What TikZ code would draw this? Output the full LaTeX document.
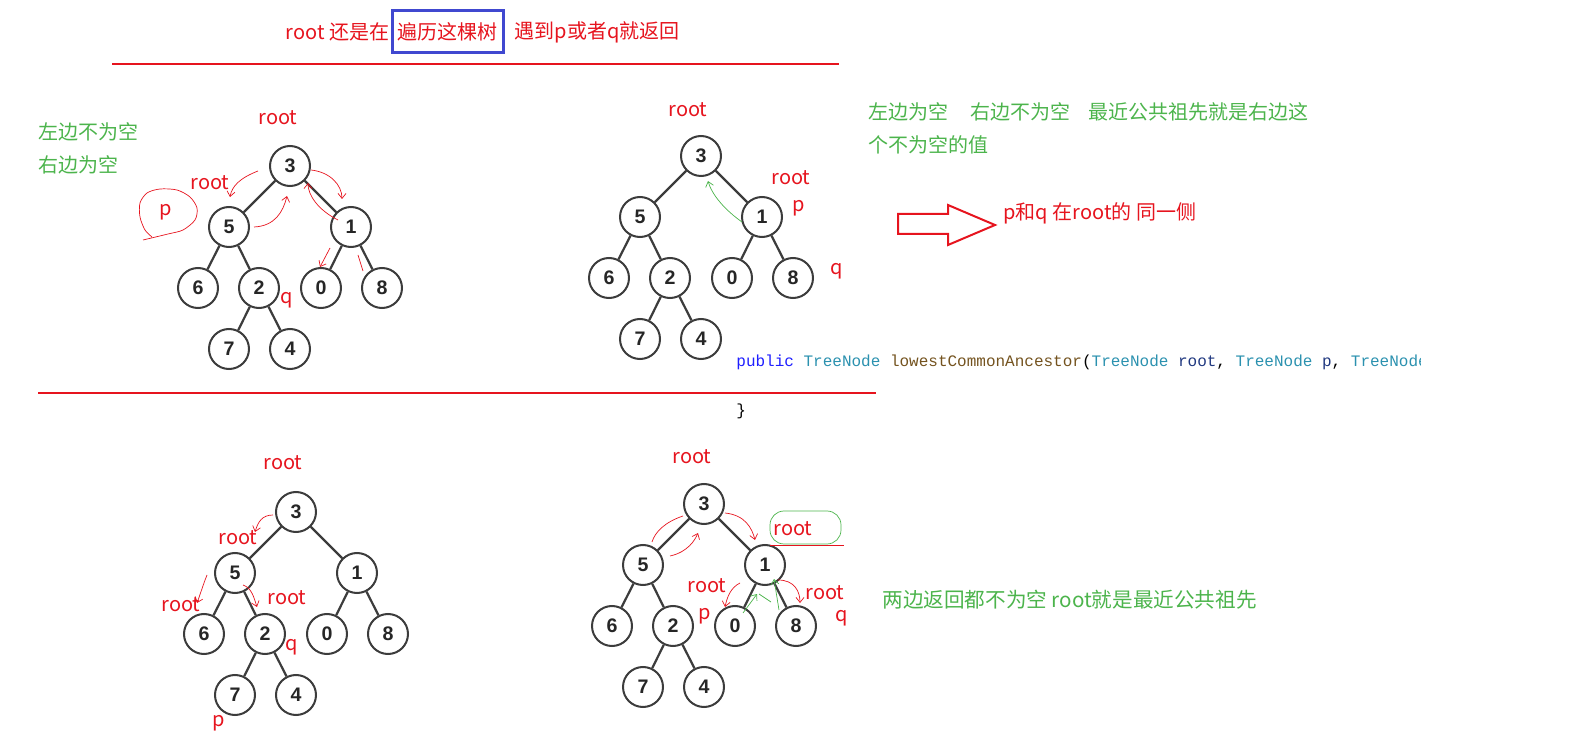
\documentclass[tikz,border=0pt]{standalone}
\usepackage{fontspec}
\setmainfont{Noto Sans CJK SC}
\newfontfamily\codefont{Liberation Mono}
\newfontfamily\digitfont{Liberation Sans}
\usetikzlibrary{calc}
\usetikzlibrary{positioning}
\usetikzlibrary{arrows.meta}

\definecolor{inkred}{RGB}{230,20,30}
\definecolor{inkgreen}{RGB}{76,180,76}
\definecolor{boxblue}{RGB}{64,72,208}
\definecolor{kwblue}{RGB}{30,30,255}
\definecolor{typeteal}{RGB}{43,145,175}
\definecolor{fnbrown}{RGB}{116,83,31}
\definecolor{argnavy}{RGB}{31,55,127}
\definecolor{nodegray}{RGB}{60,60,60}

\tikzset{
    treenode/.style={circle, draw=nodegray, line width=1pt, minimum size=20pt, inner sep=0pt, text=black!85, font=\digitfont\bfseries\fontsize{9.8}{9.8}\selectfont},
    treeedge/.style={draw=nodegray, line width=1.1pt},
    redlbl/.style={text=inkred, inner sep=0pt, font=\fontsize{10}{12}\selectfont},
    titletext/.style={text=inkred, inner sep=0pt, font=\fontsize{10}{12}\selectfont},
    greennote/.style={text=inkgreen, inner sep=0pt, anchor=west, font=\fontsize{10}{12}\selectfont},
    codeline/.style={anchor=west, inner sep=0pt, font=\codefont\fontsize{8}{10}\selectfont},
    scribble/.style={draw=inkred, line width=0.35pt, -{Straight Barb[length=2.5pt,width=4pt]}},
    greenscribble/.style={draw=inkgreen, line width=0.35pt},
    sepline/.style={draw=inkred, line width=1pt}
}

% one binary tree, root 3 at the origin of the current scope
\newcommand{\bintree}[1]{%
    \node [treenode] (#13) at (0,0) {3};
    \node [treenode] (#15) at (-61,61) {5};
    \node [treenode] (#11) at (61,61) {1};
    \node [treenode] (#16) at (-92,122) {6};
    \node [treenode] (#12) at (-31,122) {2};
    \node [treenode] (#10) at (31,122) {0};
    \node [treenode] (#18) at (92,122) {8};
    \node [treenode] (#17) at (-61,183) {7};
    \node [treenode] (#14) at (0,183) {4};
    \draw [treeedge] (#13) -- (#15);
    \draw [treeedge] (#13) -- (#11);
    \draw [treeedge] (#15) -- (#16);
    \draw [treeedge] (#15) -- (#12);
    \draw [treeedge] (#11) -- (#10);
    \draw [treeedge] (#11) -- (#18);
    \draw [treeedge] (#12) -- (#17);
    \draw [treeedge] (#12) -- (#14);
}

\begin{document}
\begin{tikzpicture}[x=0.5pt, y=-0.5pt]
    \useasboundingbox (0,0) rectangle (1576,754);

    % title
    \node [titletext, draw=boxblue, line width=1.5pt, minimum width=55.5pt, minimum height=21pt] (trav) at (447.5,32) {遍历这棵树};
    \node [titletext, left=0.5pt of trav] (titleleft) {root 还是在};
    \node [titletext, right=5pt of trav] (titleright) {遇到p或者q就返回};
    \draw [sepline] (112,64) -- (839,64);
    \draw [sepline] (38,393) -- (876,393);

    % top left: left side not empty
    \node [greennote] (noteleft1) at (38,132) {左边不为空};
    \node [greennote] (noteleft2) at (38,165) {右边为空};
    \begin{scope}[shift={(290,166)}]
        \bintree{ta}
    \end{scope}
    \node [redlbl] (taroot) at (278,118) {root};
    \node [redlbl] (taroot5) at (210,183) {root};
    \node [redlbl] (tap) at (166,212) {p};
    \node [redlbl] (taq) at (287,300) {q};
    \draw [inkred, line width=0.35pt] plot [smooth] coordinates {(143,240) (168,234) (183,230) (195,220) (197,208) (190,197) (177,190) (160,189) (147,193) (140,203) (140,217) (145,230) (152,237)};
    \draw [scribble] (258,171) .. controls (240,178) and (232,186) .. (230,197);
    \draw [scribble] (254,227) .. controls (275,226) and (283,212) .. (287,196);
    \draw [scribble] (311,170) .. controls (330,172) and (342,185) .. (342,199);
    \draw [scribble] (338,220) .. controls (318,210) and (308,195) .. (308,183);
    \draw [scribble] (330,248) -- (320,267);
    \draw [inkred, line width=0.35pt] (358,255) -- (363,271);

    % top right: left side empty
    \begin{scope}[shift={(701,156)}]
        \bintree{tb}
    \end{scope}
    \node [redlbl] (tbroot) at (688,110) {root};
    \node [redlbl] (tbroot1) at (791,178) {root};
    \node [redlbl] (tbp) at (799,208) {p};
    \node [redlbl] (tbq) at (837,271) {q};
    \draw [greenscribble, -{Straight Barb[length=2.5pt,width=4pt]}] (742,222) .. controls (725,210) and (712,195) .. (708,181);
    \node [greennote] (noteright1) at (868,112) {左边为空\hspace{11pt}右边不为空\hspace{9pt}最近公共祖先就是右边这};
    \node [greennote] (noteright2) at (868,145) {个不为空的值};
    \draw [inkred, line width=1pt] (898,214) -- (948,214) -- (948,205) -- (995,225) -- (948,245) -- (948,234) -- (898,234) -- cycle;
    \node [redlbl, anchor=west] (sameside) at (1003,213) {p和q 在root的 同一侧};

    % code snippet
    \begin{scope}
        \clip (700,340) rectangle (1420,385);
        \node [codeline] (sig) at (736,362) {{\color{kwblue}public} {\color{typeteal}TreeNode} {\color{fnbrown}lowestCommonAncestor}({\color{typeteal}TreeNode} {\color{argnavy}root}, {\color{typeteal}TreeNode} {\color{argnavy}p}, {\color{typeteal}TreeNode} {\color{argnavy}q}) \{};
    \end{scope}
    \node [codeline] (brace) at (736,411) {\}};

    % bottom left
    \begin{scope}[shift={(296,512)}]
        \bintree{tc}
    \end{scope}
    \node [redlbl] (tcroot) at (283,463) {root};
    \node [redlbl] (tcroot5) at (238,538) {root};
    \node [redlbl] (tcroot6) at (181,605) {root};
    \node [redlbl] (tcroot2) at (287,598) {root};
    \node [redlbl] (tcq) at (292,647) {q};
    \node [redlbl] (tcp) at (219,723) {p};
    \draw [scribble] (273,515) .. controls (262,515) and (258,522) .. (255,532);
    \draw [scribble] (207,575) .. controls (203,585) and (200,595) .. (197,603);
    \draw [scribble] (243,585) .. controls (252,588) and (254,598) .. (257,607);

    % bottom right: both sides not empty
    \begin{scope}[shift={(704,504)}]
        \bintree{td}
    \end{scope}
    \node [redlbl] (tdroot) at (692,457) {root};
    \node [redlbl] (tdroot1) at (793,529) {root};
    \node [redlbl] (tdroot0) at (707,586) {root};
    \node [redlbl] (tdp) at (705,616) {p};
    \node [redlbl] (tdroot8) at (825,593) {root};
    \node [redlbl] (tdq) at (842,618) {q};
    \draw [greenscribble, rounded corners=7pt] (770,511) rectangle (841,544);
    \draw [inkred, line width=0.5pt] (770,545) -- (844,545);
    \draw [inkred, line width=0.35pt] (683,516) .. controls (665,522) and (655,532) .. (652,542);
    \draw [scribble] (670,556) .. controls (688,552) and (695,540) .. (698,533);
    \draw [scribble] (725,513) .. controls (745,515) and (752,528) .. (755,540);
    \draw [scribble] (740,583) .. controls (730,588) and (727,598) .. (725,607);
    \draw [scribble] (778,580) .. controls (795,580) and (800,592) .. (800,603);
    \draw [greenscribble, -{Straight Barb[length=2.5pt,width=4pt]}] (743,613) -- (757,594);
    \draw [greenscribble] (759,594) -- (771,602);
    \draw [greenscribble, -{Straight Barb[length=2.5pt,width=4pt]}] (779,610) -- (774,579);
    \node [greennote, font=\fontsize{10.3}{12}\selectfont] (notebottom) at (882,600) {两边返回都不为空 root就是最近公共祖先};
\end{tikzpicture}
\end{document}
